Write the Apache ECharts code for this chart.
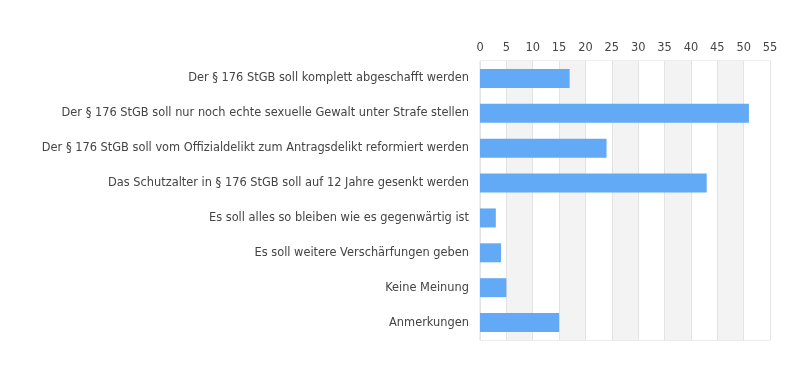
<!DOCTYPE html>
<html><head><meta charset="utf-8">
<script src="https://cdn.jsdelivr.net/npm/echarts@6/dist/echarts.min.js"></script>
<style>html,body{margin:0;padding:0;background:#fff}#c{width:800px;height:370px}</style>
</head><body><div id="c"></div>
<script>
const categories = [
  "Der § 176 StGB soll komplett abgeschafft werden",
  "Der § 176 StGB soll nur noch echte sexuelle Gewalt unter Strafe stellen",
  "Der § 176 StGB soll vom Offizialdelikt zum Antragsdelikt reformiert werden",
  "Das Schutzalter in § 176 StGB soll auf 12 Jahre gesenkt werden",
  "Es soll alles so bleiben wie es gegenwärtig ist",
  "Es soll weitere Verschärfungen geben",
  "Keine Meinung",
  "Anmerkungen"
];
const values = [17, 51, 24, 43, 3, 4, 5, 15];

const chart = echarts.init(document.getElementById('c'), null, {renderer: 'canvas'});
chart.setOption({
  animation: false,
  textStyle: {fontFamily: '"DejaVu Sans", sans-serif'},
  grid: {left: 480, right: 30, top: 61, bottom: 30, show: true, borderColor: '#dcdcdc', borderWidth: 1, backgroundColor: 'transparent'},
  xAxis: {
    type: 'value', position: 'top', min: 0, max: 55, interval: 5,
    axisLine: {show: false}, axisTick: {show: false},
    axisLabel: {color: '#444', fontSize: 11.4, fontFamily: '"DejaVu Sans", sans-serif', margin: 7},
    splitLine: {show: true, lineStyle: {color: '#e3e3e3'}},
    splitArea: {show: true, areaStyle: {color: ['#ffffff', '#f3f3f3']}}
  },
  yAxis: {
    type: 'category', data: categories, inverse: true,
    axisLine: {show: false}, axisTick: {show: false},
    axisLabel: {color: '#444', fontSize: 11.4, fontFamily: '"DejaVu Sans", sans-serif', margin: 11}
  },
  series: [{
    type: 'bar', data: values, barWidth: 19,
    itemStyle: {color: '#62aaf5'}
  }]
});
</script></body></html>
